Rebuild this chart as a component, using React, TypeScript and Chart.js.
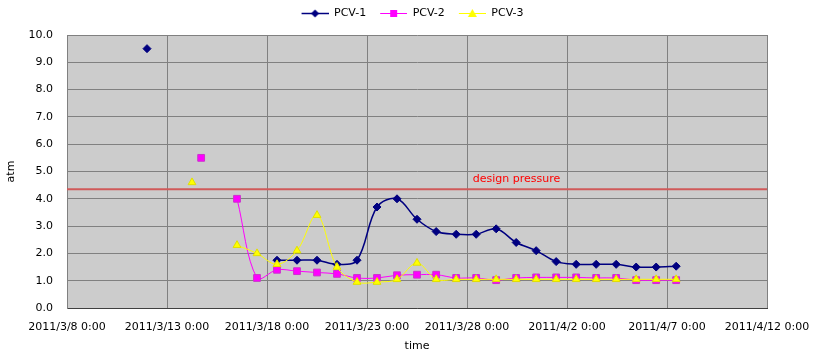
import React, { useEffect, useRef } from "react";
import { Chart, registerables } from "chart.js";

Chart.register(...registerables);

// ---- data ----
const times = [
  "2011/3/16 12:00", "2011/3/17 12:00", "2011/3/18 12:00", "2011/3/19 12:00",
  "2011/3/20 12:00", "2011/3/21 12:00", "2011/3/22 12:00", "2011/3/23 12:00",
  "2011/3/24 12:00", "2011/3/25 12:00", "2011/3/26 11:00", "2011/3/27 11:00",
  "2011/3/28 11:00", "2011/3/29 11:00", "2011/3/30 11:00", "2011/3/31 11:00",
  "2011/4/1 11:00", "2011/4/2 11:00", "2011/4/3 11:00", "2011/4/4 11:00",
  "2011/4/5 11:00", "2011/4/6 11:00", "2011/4/7 11:00",
];
const pcv1 = [null, null, 1.75, 1.75, 1.75, 1.6, 1.75, 3.7, 4.0, 3.25, 2.8, 2.7, 2.7, 2.9, 2.4, 2.1, 1.7, 1.6, 1.6, 1.6, 1.5, 1.5, 1.53];
const pcv2 = [4.0, 1.1, 1.4, 1.35, 1.3, 1.25, 1.1, 1.1, 1.2, 1.22, 1.22, 1.1, 1.1, 1.02, 1.1, 1.12, 1.12, 1.12, 1.1, 1.1, 1.02, 1.02, 1.02];
const pcv3 = [2.3, 2.0, 1.6, 2.1, 3.4, 1.5, 0.95, 0.95, 1.05, 1.65, 1.05, 1.05, 1.05, 1.05, 1.05, 1.05, 1.05, 1.05, 1.05, 1.05, 1.05, 1.05, 1.05];

// isolated early readings
const pcv1EarlyTime = "2011/3/12 0:00";
const pcv1EarlyValue = 9.5;
const pcv2EarlyTime = "2011/3/14 17:00";
const pcv2EarlyValue = 5.5;
const pcv3EarlyTime = "2011/3/14 6:00";
const pcv3EarlyValue = 4.6;

const seriesNames = ["PCV-1", "PCV-2", "PCV-3"];
const designPressure = 4.35;
const designLabel = "design pressure";
const designLabelTime = "2011/3/28 7:00";
const designLabelValue = 4.72;

const axisStart = "2011/3/8 0:00";
const axisEnd = "2011/4/12 0:00";
const axisStepDays = 5;
const yMin = 0;
const yMax = 10;
const yStep = 1;
const xTitle = "time";
const yTitle = "atm";

// ---- helpers ----
const BASE = Date.UTC(2011, 2, 8);
function toDay(s: string): number {
  const [d, t] = s.split(" ");
  const [y, m, dd] = d.split("/").map(Number);
  const [h, mi] = t.split(":").map(Number);
  return (Date.UTC(y, m - 1, dd, h, mi) - BASE) / 86400000;
}
function dayLabel(v: number): string {
  const dt = new Date(BASE + v * 86400000);
  return `${dt.getUTCFullYear()}/${dt.getUTCMonth() + 1}/${dt.getUTCDate()} ${dt.getUTCHours()}:${String(dt.getUTCMinutes()).padStart(2, "0")}`;
}
function build(earlyT: string, earlyV: number, vals: (number | null)[]) {
  const pts: { x: number; y: number | null }[] = [];
  pts.push({ x: toDay(earlyT), y: earlyV });
  pts.push({ x: toDay(earlyT), y: null });
  times.forEach((t, i) => pts.push({ x: toDay(t), y: vals[i] }));
  return pts;
}

const FONT = "'DejaVu Sans', sans-serif";

function legendIcon(color: string, style: string, lw: number): HTMLCanvasElement {
  const c = document.createElement("canvas");
  c.width = 33;
  c.height = 11;
  const g = c.getContext("2d")!;
  g.strokeStyle = color;
  g.lineWidth = lw;
  g.beginPath();
  g.moveTo(6, 5.5);
  g.lineTo(33, 5.5);
  g.stroke();
  g.fillStyle = color;
  const cx = 19.5, cy = 5.5;
  g.beginPath();
  if (style === "diamond") {
    g.moveTo(cx, cy - 4); g.lineTo(cx + 4, cy); g.lineTo(cx, cy + 4); g.lineTo(cx - 4, cy);
  } else if (style === "square") {
    g.rect(cx - 3.5, cy - 3.5, 7, 7);
  } else {
    g.moveTo(cx, cy - 4.5); g.lineTo(cx + 4.5, cy + 3.5); g.lineTo(cx - 4.5, cy + 3.5);
  }
  g.closePath();
  g.fill();
  return c;
}

export default function App() {
  const ref = useRef<HTMLCanvasElement | null>(null);
  useEffect(() => {
    document.body.style.margin = "0";
    const canvas = ref.current!;
    const icons = [
      legendIcon("#000080", "diamond", 1.5),
      legendIcon("#FF00FF", "square", 1),
      legendIcon("#FFFF00", "triangle", 1),
    ];
    const xMin = toDay(axisStart);
    const xMax = toDay(axisEnd);

    const bgPlugin = {
      id: "plotBg",
      beforeDraw(chart: any) {
        const { ctx, chartArea } = chart;
        ctx.save();
        ctx.fillStyle = "#CCCCCC";
        ctx.fillRect(chartArea.left, chartArea.top, chartArea.right - chartArea.left, chartArea.bottom - chartArea.top);
        ctx.restore();
      },
    };
    const labelPlugin = {
      id: "designLabel",
      afterDatasetsDraw(chart: any) {
        const { ctx, scales } = chart;
        ctx.save();
        ctx.fillStyle = "#FF0000";
        ctx.font = `11px ${FONT}`;
        ctx.textAlign = "left";
        ctx.textBaseline = "middle";
        ctx.fillText(designLabel, scales.x.getPixelForValue(toDay(designLabelTime)), scales.y.getPixelForValue(designLabelValue));
        ctx.restore();
      },
    };

    const chart = new Chart(canvas, {
      type: "line",
      data: {
        datasets: [
          {
            label: seriesNames[0],
            data: build(pcv1EarlyTime, pcv1EarlyValue, pcv1),
            borderColor: "#000080",
            backgroundColor: "#000080",
            borderWidth: 1.5,
            pointStyle: "rectRot",
            pointRadius: 4,
            pointBorderWidth: 1,
            tension: 0.35,
            spanGaps: false,
            order: 3,
          },
          {
            label: seriesNames[1],
            data: build(pcv2EarlyTime, pcv2EarlyValue, pcv2),
            borderColor: "#FF00FF",
            backgroundColor: "#FF00FF",
            pointBorderColor: "#CC33CC",
            borderWidth: 1,
            pointStyle: "rect",
            pointRadius: 4.8,
            pointBorderWidth: 1,
            tension: 0.35,
            spanGaps: false,
            order: 2,
          },
          {
            label: seriesNames[2],
            data: build(pcv3EarlyTime, pcv3EarlyValue, pcv3),
            borderColor: "#FFFF00",
            backgroundColor: "#FFFF00",
            pointBorderColor: "#E0E000",
            borderWidth: 1,
            pointStyle: "triangle",
            pointRadius: 4.5,
            pointBorderWidth: 1,
            tension: 0.35,
            spanGaps: false,
            order: 1,
          },
          {
            label: "design",
            data: [
              { x: xMin, y: designPressure },
              { x: xMax, y: designPressure },
            ],
            borderColor: "#D05A5A",
            borderWidth: 2,
            pointRadius: 0,
            order: 4,
          },
        ],
      },
      options: {
        responsive: false,
        animation: false,
        devicePixelRatio: 1,
        layout: { padding: { top: 0, left: 4, right: 0, bottom: 0 } },
        scales: {
          x: {
            type: "linear",
            min: xMin,
            max: xMax,
            afterFit(scale: any) {
              scale.height = 49;
              scale.paddingRight = 48;
            },
            ticks: {
              stepSize: axisStepDays,
              autoSkip: false,
              maxRotation: 0,
              padding: 13,
              color: "#000",
              font: { family: FONT, size: 11 },
              callback: (v: any) => dayLabel(Number(v)),
            },
            grid: { color: "#808080", lineWidth: 1, drawTicks: false },
            border: { color: "#404040", width: 1 },
            title: {
              display: true,
              text: xTitle,
              color: "#000",
              font: { family: FONT, size: 11 },
              padding: { top: 0, bottom: 4 },
            },
          },
          y: {
            min: yMin,
            max: yMax,
            afterFit(scale: any) {
              scale.width = 63;
            },
            ticks: {
              stepSize: yStep,
              padding: 14,
              color: "#000",
              font: { family: FONT, size: 11 },
              callback: (v: any) => Number(v).toFixed(1),
            },
            grid: { color: "#808080", lineWidth: 1, drawTicks: false },
            border: { color: "#808080", width: 1 },
            title: {
              display: true,
              text: yTitle,
              color: "#000",
              font: { family: FONT, size: 11 },
              padding: { top: 1, bottom: 0 },
            },
          },
        },
        plugins: {
          title: {
            display: true,
            text: "",
            weight: 500,
            font: { size: 1, lineHeight: 1 },
            padding: { top: 0, bottom: 5 },
          } as any,
          tooltip: { enabled: false },
          legend: {
            display: true,
            position: "top",
            labels: {
              usePointStyle: true,
              pointStyleWidth: 33,
              padding: 8,
              color: "#000",
              font: { family: FONT, size: 11 },
              sort: (a: any, b: any) => a.datasetIndex - b.datasetIndex,
              filter: (item: any) => item.datasetIndex < 3,
              generateLabels: (ch: any) => {
                const items = Chart.defaults.plugins.legend.labels.generateLabels(ch);
                return items.map((it: any) => {
                  if (it.datasetIndex < 3) it.pointStyle = icons[it.datasetIndex];
                  return it;
                });
              },
            },
          },
        },
      },
      plugins: [bgPlugin, labelPlugin],
    } as any);
    return () => chart.destroy();
  }, []);
  return (
    <div style={{ width: 815, height: 357 }}>
      <canvas ref={ref} width={815} height={357} />
    </div>
  );
}
